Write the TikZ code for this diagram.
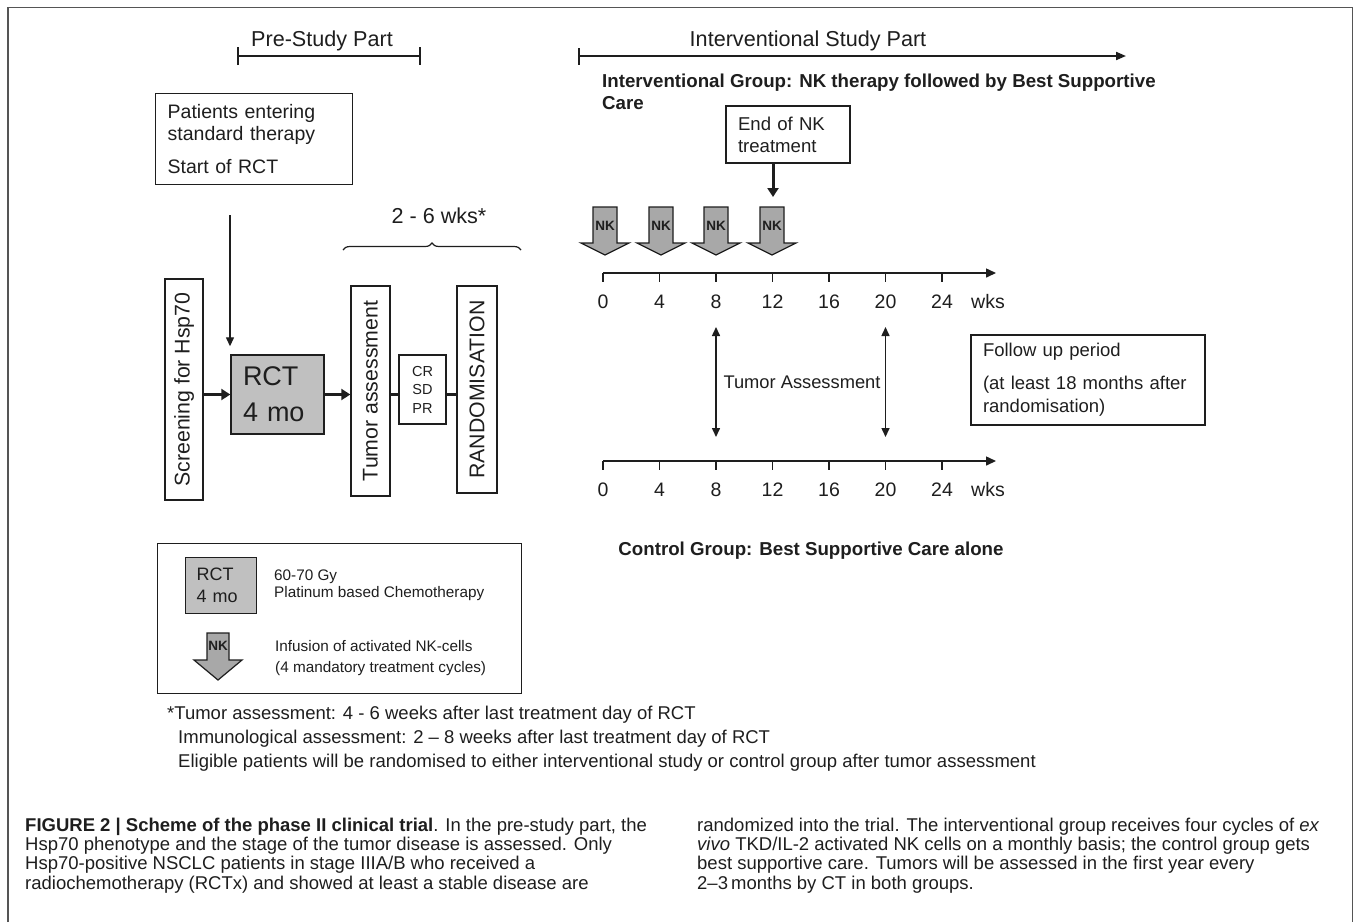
\documentclass[tikz,border=0pt]{standalone}
\usepackage{fontspec}
\setmainfont{Liberation Sans}
\usepackage{tikz}
\usetikzlibrary{arrows.meta, decorations.pathreplacing}
\definecolor{ink}{RGB}{30, 30, 30}
\definecolor{rim}{RGB}{85, 85, 85}
\definecolor{rctgrey}{RGB}{192, 192, 192}
\definecolor{nkgrey}{RGB}{168, 168, 168}
\newcommand{\fnt}[2]{\fontsize{#1}{#2}\selectfont}

\begin{document}
\begin{tikzpicture}[x=1pt, y=-1pt, ink,
  box/.style={draw=ink, line width=1.4pt, inner xsep=12pt, inner ysep=0pt, align=left},
  upbox/.style={draw=ink, line width=1.4pt, rotate=90, inner sep=0pt, font=\fnt{21.3}{25}},
  txt/.style={inner sep=0pt, align=left},
  bold/.style={txt, font=\bfseries\fnt{18.7}{22}},
  head/.style={txt, font=\fnt{21.6}{26}},
  wklabel/.style={txt, font=\fnt{19.5}{23}},
  small/.style={txt, font=\fnt{15.3}{16.5}},
  nklabel/.style={txt, font=\bfseries\fnt{13.5}{14}},
  nkshape/.style={draw=ink, line width=1.2pt, fill=nkgrey},
  flow/.style={line width=3pt, -{Triangle[length=9pt, width=11pt]}},
  link/.style={line width=3pt},
  slim/.style={line width=1.3pt, -{Triangle[length=9pt, width=8pt]}},
  twoway/.style={line width=1.5pt, {Triangle[length=9pt, width=8pt]}-{Triangle[length=9pt, width=8pt]}},
  timeline/.style={line width=1.5pt, -{Triangle[length=10pt, width=9pt]}},
  span/.style={line width=2pt, {Bar[width=18pt]}-{Bar[width=18pt]}},
  spanarrow/.style={line width=2pt, {Bar[width=17pt]}-{Triangle[length=10pt, width=8pt]}},
  curly/.style={line width=1.2pt, decorate, decoration={brace, amplitude=7pt}},
  frame/.style={draw=rim, line width=1.5pt}]

  \useasboundingbox (0,0) rectangle (1356,922);
  \draw[frame] (8,922) -- (8,7.5) -- (1352.5,7.5) -- (1352.5,922);

  % pre-study part
  \node[head] (prehead) at (322,41) {Pre-Study Part};
  \draw[span] (237,56) -- (421,56);
  \node[box, minimum width=197pt, minimum height=91pt, text width=173pt,
    font=\fnt{19.5}{22}, anchor=north west] (patients) at (155,93)
    {Patients entering\\standard therapy\\[11pt]Start of RCT};
  \node[head] (weeks) at (439,216) {2 - 6 wks*};
  \draw[curly] (343,250) -- (521,250);

  \node[upbox, minimum width=221pt, minimum height=38pt] (screen) at (184,389.5) {Screening for Hsp70};
  \node[box, fill=rctgrey, minimum width=93pt, minimum height=79pt, text width=69pt,
    font=\fnt{27}{36}] (rct) at (277.5,394.5) {RCT\\4 mo};
  \node[upbox, minimum width=210pt, minimum height=39pt] (tumor) at (370.5,391) {Tumor assessment};
  \node[box, inner xsep=0pt, align=center, minimum width=47pt, minimum height=69pt,
    font=\fnt{14.5}{18.5}] (resp) at (422.5,389.5) {CR\\SD\\PR};
  \node[upbox, minimum width=207pt, minimum height=40pt] (random) at (477,389.5) {RANDOMISATION};

  \coordinate (start) at (230,215);
  \draw[slim, shorten >=8pt] (start) -- (start |- rct.north);
  \draw[flow] (rct.west -| screen.south) -- (rct.west);
  \draw[flow] (rct.east) -- (rct.east -| tumor.north);
  \draw[link] (rct.east -| tumor.south) -- (rct.east -| resp.west);
  \draw[link] (rct.east -| resp.east) -- (rct.east -| random.north);

  % legend
  \node[box, minimum width=364pt, minimum height=150pt, anchor=north west] (legend) at (157,543) {};
  \node[box, fill=rctgrey, inner xsep=11pt, minimum width=71pt, minimum height=56pt, text width=49pt,
    font=\fnt{18}{22}, anchor=north west] (legrct) at (185,557) {RCT\\4 mo};
  \node[small, anchor=west] (legrcttext) at (274,585) {60-70 Gy\\Platinum based Chemotherapy};
  \draw[nkshape] (207,633) -- (229,633) -- (229,660) -- (242,660) -- (218,680)
    -- (194,660) -- (207,660) -- cycle;
  \node[nklabel] (legnk) at (218,646) {NK};
  \node[small, anchor=west, font=\fnt{15.3}{21}] (legnktext) at (275,658.5)
    {Infusion of activated NK-cells\\(4 mandatory treatment cycles)};

  \node[txt, anchor=west, font=\fnt{18.5}{24}] (note) at (167,739)
    {*Tumor assessment: 4 - 6 weeks after last treatment day of RCT\\
     \hspace*{11pt}Immunological assessment: 2 – 8 weeks after last treatment day of RCT\\
     \hspace*{11pt}Eligible patients will be randomised to either interventional study or control group after tumor assessment};

  % interventional study part
  \node[head] (inthead) at (808,41) {Interventional Study Part};
  \draw[spanarrow] (578,56) -- (1126,56);
  \node[bold, anchor=west] (intgroup) at (602,92)
    {Interventional Group: NK therapy followed by Best Supportive\\Care};
  \node[box, minimum width=124pt, minimum height=57pt, text width=100pt,
    font=\fnt{18.6}{22}] (endnk) at (788,134.5) {End of NK\\treatment};
  \coordinate (nkin) at (773,197);
  \draw[flow] (endnk.south -| nkin) -- (nkin);

  \foreach \nx [count=\i] in {605, 661, 716, 772} {
    \draw[nkshape] (\nx-12,207) -- (\nx+12,207) -- (\nx+12,243) -- (\nx+24,243)
      -- (\nx,255) -- (\nx-24,243) -- (\nx-12,243) -- cycle;
    \node[nklabel] (nk\i) at (\nx,226) {NK};
  }

  \foreach \ax/\ay in {up/273, lo/461} {
    \draw[timeline] (603,\ay) -- (996,\ay);
    \foreach \wk [count=\k from 0] in {0, 4, ..., 24} {
      \draw[line width=1.5pt] (603+56.5*\k,\ay) -- ++(0,9);
      \node[wklabel] (\ax\wk) at (603+56.5*\k,\ay+29) {\wk};
    }
    \node[wklabel] (\ax wks) at (988,\ay+29) {wks};
  }

  \coordinate (ta8top) at (716,327);
  \coordinate (ta8bot) at (716,437);
  \coordinate (ta20top) at (885.5,327);
  \coordinate (ta20bot) at (885.5,437);
  \draw[twoway] (ta8top) -- (ta8bot);
  \draw[twoway] (ta20top) -- (ta20bot);
  \node[txt, font=\fnt{18.3}{22}] (assess) at (802,382) {Tumor Assessment};

  \node[box, minimum width=234pt, minimum height=90pt, text width=210pt,
    font=\fnt{18.5}{23}] (follow) at (1088,380)
    {Follow up period\\[10pt](at least 18 months after\\randomisation)};
  \node[bold] (control) at (811,551) {Control Group: Best Supportive Care alone};

  % caption
  \node[txt, anchor=west, font=\fnt{18.5}{19.2}] (capleft) at (25,855.5)
    {\textbf{FIGURE 2 | Scheme of the phase II clinical trial}. In the pre-study part, the\\
     Hsp70 phenotype and the stage of the tumor disease is assessed. Only\\
     Hsp70-positive NSCLC patients in stage IIIA/B who received a\\
     radiochemotherapy (RCTx) and showed at least a stable disease are};
  \node[txt, anchor=west, font=\fnt{18.5}{19.2}] (capright) at (697,855.5)
    {randomized into the trial. The interventional group receives four cycles of \textit{ex}\\
     \textit{vivo} TKD/IL-2 activated NK cells on a monthly basis; the control group gets\\
     best supportive care. Tumors will be assessed in the first year every\\
     2–3\,months by CT in both groups.};

\end{tikzpicture}
\end{document}
